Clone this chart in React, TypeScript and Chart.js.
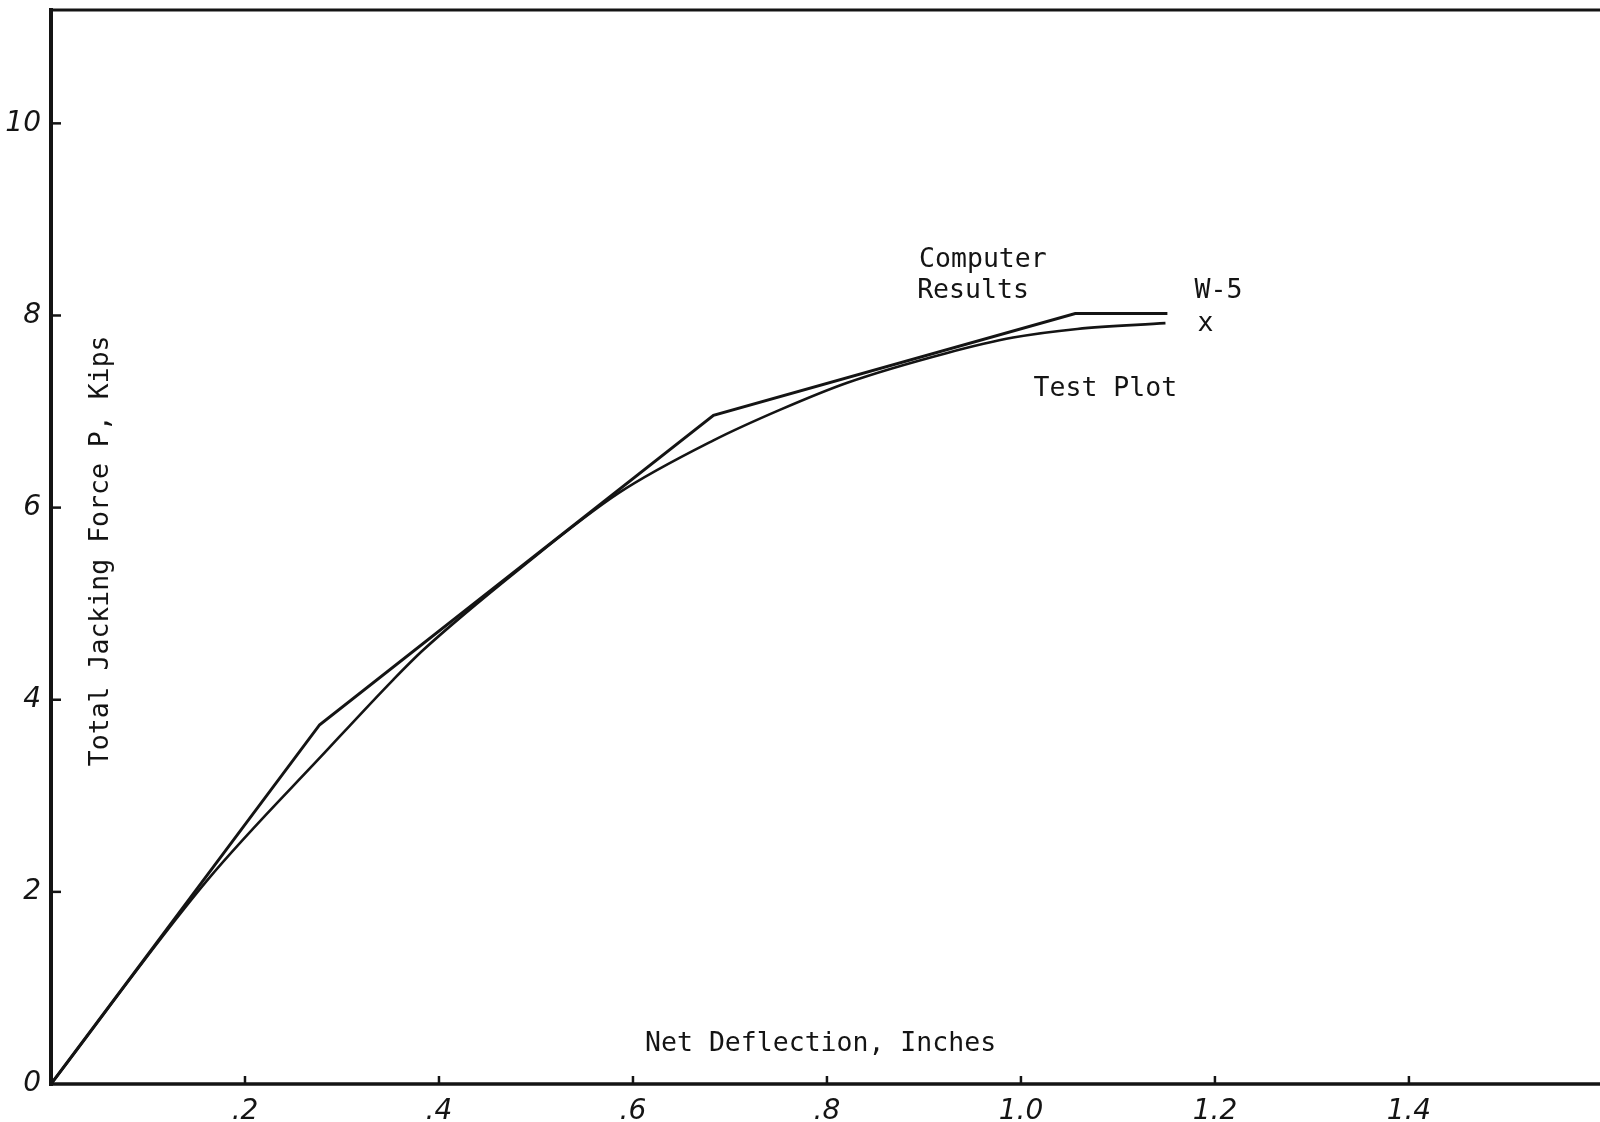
import { useEffect, useRef } from "react";
import { Chart, registerables } from "chart.js";

Chart.register(...registerables);

// Computer results: straight-line segments (deflection in inches, force in kips)
const computerDeflection = [0, 0.277, 0.683, 1.056, 1.151];
const computerForce = [0, 3.74, 6.96, 8.02, 8.02];

// Test plot: measured load-deflection curve
const testDeflection = [0, 0.161, 0.285, 0.353, 0.384, 0.484, 0.585, 0.683, 0.752, 0.821, 0.924, 0.992, 1.058, 1.149];
const testForce = [0, 2.12, 3.48, 4.21, 4.52, 5.37, 6.15, 6.7, 7.02, 7.3, 7.61, 7.77, 7.86, 7.92];

// Axis ticks
const xTickValues = [0.2, 0.4, 0.6, 0.8, 1.0, 1.2, 1.4];
const xTickLabels = [".2", ".4", ".6", ".8", "1.0", "1.2", "1.4"];
const yTickValues = [0, 2, 4, 6, 8, 10];
const yTickLabels = ["0", "2", "4", "6", "8", "10"];

const X_MAX = 1.597;
const Y_MAX = 11.18;

const INK = "#141414";
const TYPE_FONT = '26.5px "DejaVu Sans Mono"';

// Typed notes placed in data coordinates (x = deflection, y = force at baseline)
const notes: { text: string; x: number; y: number }[] = [
  { text: "Computer", x: 0.895, y: 8.505 },
  { text: "Results", x: 0.893, y: 8.18 },
  { text: "W-5", x: 1.179, y: 8.18 },
  { text: "x", x: 1.182, y: 7.84 },
  { text: "Test Plot", x: 1.013, y: 7.16 },
  { text: "Net Deflection, Inches", x: 0.6125, y: 0.34 },
];
const yTitle = { text: "Total Jacking Force P, Kips", x: 0.0588, y: 5.55 };

const toPoints = (xs: number[], ys: number[]) => xs.map((x, i) => ({ x, y: ys[i] }));

const framePlugin = {
  id: "frame",
  beforeDatasetsDraw(chart: any) {
    const { ctx, chartArea, scales } = chart;
    const { left, right, top, bottom } = chartArea;
    const line = (x1: number, y1: number, x2: number, y2: number) => {
      ctx.beginPath();
      ctx.moveTo(x1, y1);
      ctx.lineTo(x2, y2);
      ctx.stroke();
    };
    ctx.save();
    ctx.strokeStyle = INK;
    ctx.lineCap = "square";
    ctx.lineWidth = 4;
    line(left, top, left, bottom);
    ctx.lineWidth = 3.5;
    line(left, bottom, right, bottom);
    ctx.lineWidth = 3;
    line(left, top, right, top);
    ctx.lineCap = "butt";
    ctx.lineWidth = 2.5;
    yTickValues.forEach((v) => {
      if (v === 0) return;
      const py = scales.y.getPixelForValue(v);
      line(left, py, left + 10, py);
    });
    xTickValues.forEach((v) => {
      const px = scales.x.getPixelForValue(v);
      line(px, bottom, px, bottom - 8);
    });
    ctx.restore();
  },
  afterDatasetsDraw(chart: any) {
    const { ctx, scales } = chart;
    ctx.save();
    ctx.fillStyle = INK;
    ctx.font = TYPE_FONT;
    ctx.textAlign = "left";
    ctx.textBaseline = "alphabetic";
    notes.forEach((n) => {
      ctx.fillText(n.text, scales.x.getPixelForValue(n.x), scales.y.getPixelForValue(n.y));
    });
    ctx.translate(scales.x.getPixelForValue(yTitle.x), scales.y.getPixelForValue(yTitle.y));
    ctx.rotate(-Math.PI / 2);
    ctx.textAlign = "center";
    ctx.fillText(yTitle.text, 0, 0);
    ctx.restore();
  },
};

export default function App() {
  const canvasRef = useRef<HTMLCanvasElement | null>(null);

  useEffect(() => {
    const canvas = canvasRef.current;
    if (!canvas) return;
    const chart = new Chart(canvas, {
      type: "line",
      data: {
        datasets: [
          {
            label: "Computer Results",
            data: toPoints(computerDeflection, computerForce),
            borderColor: INK,
            borderWidth: 3,
            pointRadius: 0,
            tension: 0,
            fill: false,
          },
          {
            label: "Test Plot",
            data: toPoints(testDeflection, testForce),
            borderColor: INK,
            borderWidth: 2.6,
            pointRadius: 0,
            cubicInterpolationMode: "monotone",
            fill: false,
          },
        ],
      },
      options: {
        responsive: false,
        animation: false,
        devicePixelRatio: 1,
        layout: { padding: { top: 10, right: 0, bottom: 0, left: 0 } },
        plugins: { legend: { display: false }, tooltip: { enabled: false } },
        scales: {
          x: {
            type: "linear",
            min: 0,
            max: X_MAX,
            grid: { display: false, drawTicks: false },
            border: { display: false },
            afterBuildTicks: (scale: any) => {
              scale.ticks = xTickValues.map((value) => ({ value }));
            },
            afterFit: (scale: any) => {
              scale.height = 38;
              scale.paddingLeft = 0;
              scale.paddingRight = 0;
            },
            ticks: {
              padding: 11,
              color: INK,
              font: { family: "DejaVu Sans", size: 28, style: "italic" },
              callback: (_v: any, i: number) => xTickLabels[i],
            },
          },
          y: {
            type: "linear",
            min: 0,
            max: Y_MAX,
            grid: { display: false, drawTicks: false },
            border: { display: false },
            afterBuildTicks: (scale: any) => {
              scale.ticks = yTickValues.map((value) => ({ value }));
            },
            afterFit: (scale: any) => {
              scale.width = 51;
              scale.paddingTop = 0;
              scale.paddingBottom = 0;
            },
            ticks: {
              padding: 10,
              color: INK,
              font: { family: "DejaVu Sans", size: 28, style: "italic" },
              callback: (_v: any, i: number) => yTickLabels[i],
            },
          },
        },
      },
      plugins: [framePlugin],
    });
    return () => chart.destroy();
  }, []);

  return (
    <div style={{ position: "fixed", left: 0, top: 0, width: 1600, height: 1122, background: "#fff" }}>
      <canvas ref={canvasRef} width={1600} height={1122} style={{ display: "block" }} />
    </div>
  );
}
